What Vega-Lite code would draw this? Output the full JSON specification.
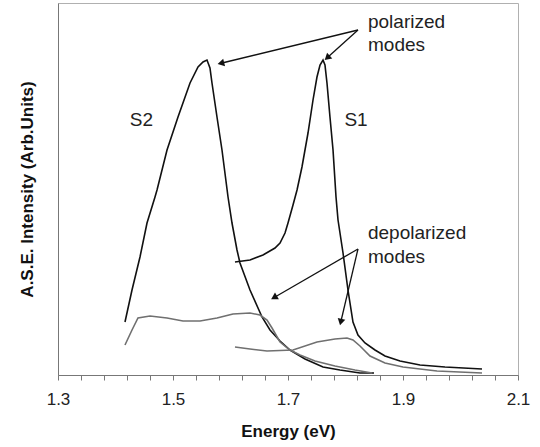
{
  "$schema": "https://vega.github.io/schema/vega-lite/v6.json",
  "width": 460,
  "height": 372,
  "autosize": {"type": "none"},
  "padding": {"left": 58, "top": 3, "right": 22, "bottom": 72},
  "background": "white",
  "config": {
    "view": {"stroke": "#b0b0b0", "strokeWidth": 1},
    "font": "Liberation Sans",
    "axis": {"labelFont": "Liberation Sans", "titleFont": "Liberation Sans"}
  },
  "datasets": {
    "curves": [
      {"series": "S2 polarized", "energy": 1.4165, "intensity": 53},
      {"series": "S2 polarized", "energy": 1.4287, "intensity": 85},
      {"series": "S2 polarized", "energy": 1.4426, "intensity": 118},
      {"series": "S2 polarized", "energy": 1.4548, "intensity": 152},
      {"series": "S2 polarized", "energy": 1.4687, "intensity": 178},
      {"series": "S2 polarized", "energy": 1.4722, "intensity": 185},
      {"series": "S2 polarized", "energy": 1.4896, "intensity": 225},
      {"series": "S2 polarized", "energy": 1.5087, "intensity": 258},
      {"series": "S2 polarized", "energy": 1.5296, "intensity": 292},
      {"series": "S2 polarized", "energy": 1.5435, "intensity": 308},
      {"series": "S2 polarized", "energy": 1.5522, "intensity": 313},
      {"series": "S2 polarized", "energy": 1.5591, "intensity": 315},
      {"series": "S2 polarized", "energy": 1.5643, "intensity": 307},
      {"series": "S2 polarized", "energy": 1.5678, "intensity": 292},
      {"series": "S2 polarized", "energy": 1.5765, "intensity": 258},
      {"series": "S2 polarized", "energy": 1.5852, "intensity": 225},
      {"series": "S2 polarized", "energy": 1.5957, "intensity": 178},
      {"series": "S2 polarized", "energy": 1.6026, "intensity": 152},
      {"series": "S2 polarized", "energy": 1.6113, "intensity": 125},
      {"series": "S2 polarized", "energy": 1.6165, "intensity": 112},
      {"series": "S2 polarized", "energy": 1.6339, "intensity": 85},
      {"series": "S2 polarized", "energy": 1.6548, "intensity": 58},
      {"series": "S2 polarized", "energy": 1.6687, "intensity": 45},
      {"series": "S2 polarized", "energy": 1.6861, "intensity": 34},
      {"series": "S2 polarized", "energy": 1.7035, "intensity": 25},
      {"series": "S2 polarized", "energy": 1.7296, "intensity": 16},
      {"series": "S2 polarized", "energy": 1.7609, "intensity": 8},
      {"series": "S2 polarized", "energy": 1.7904, "intensity": 5},
      {"series": "S2 polarized", "energy": 1.8252, "intensity": 2},
      {"series": "S2 polarized", "energy": 1.8496, "intensity": 2},

      {"series": "S1 polarized", "energy": 1.6078, "intensity": 113},
      {"series": "S1 polarized", "energy": 1.6339, "intensity": 115},
      {"series": "S1 polarized", "energy": 1.6565, "intensity": 120},
      {"series": "S1 polarized", "energy": 1.6774, "intensity": 127},
      {"series": "S1 polarized", "energy": 1.6861, "intensity": 132},
      {"series": "S1 polarized", "energy": 1.6948, "intensity": 142},
      {"series": "S1 polarized", "energy": 1.7000, "intensity": 152},
      {"series": "S1 polarized", "energy": 1.7087, "intensity": 170},
      {"series": "S1 polarized", "energy": 1.7157, "intensity": 185},
      {"series": "S1 polarized", "energy": 1.7243, "intensity": 208},
      {"series": "S1 polarized", "energy": 1.7348, "intensity": 242},
      {"series": "S1 polarized", "energy": 1.7435, "intensity": 275},
      {"series": "S1 polarized", "energy": 1.7504, "intensity": 298},
      {"series": "S1 polarized", "energy": 1.7557, "intensity": 310},
      {"series": "S1 polarized", "energy": 1.7609, "intensity": 315},
      {"series": "S1 polarized", "energy": 1.7643, "intensity": 310},
      {"series": "S1 polarized", "energy": 1.7678, "intensity": 292},
      {"series": "S1 polarized", "energy": 1.7730, "intensity": 258},
      {"series": "S1 polarized", "energy": 1.7783, "intensity": 225},
      {"series": "S1 polarized", "energy": 1.7835, "intensity": 178},
      {"series": "S1 polarized", "energy": 1.7870, "intensity": 155},
      {"series": "S1 polarized", "energy": 1.7957, "intensity": 122},
      {"series": "S1 polarized", "energy": 1.8043, "intensity": 85},
      {"series": "S1 polarized", "energy": 1.8130, "intensity": 53},
      {"series": "S1 polarized", "energy": 1.8217, "intensity": 40},
      {"series": "S1 polarized", "energy": 1.8339, "intensity": 32},
      {"series": "S1 polarized", "energy": 1.8513, "intensity": 25},
      {"series": "S1 polarized", "energy": 1.8687, "intensity": 19},
      {"series": "S1 polarized", "energy": 1.8948, "intensity": 14},
      {"series": "S1 polarized", "energy": 1.9296, "intensity": 10},
      {"series": "S1 polarized", "energy": 1.9730, "intensity": 8},
      {"series": "S1 polarized", "energy": 2.0374, "intensity": 6},

      {"series": "S2 depolarized", "energy": 1.4165, "intensity": 30},
      {"series": "S2 depolarized", "energy": 1.4287, "intensity": 45},
      {"series": "S2 depolarized", "energy": 1.4391, "intensity": 57},
      {"series": "S2 depolarized", "energy": 1.4600, "intensity": 59},
      {"series": "S2 depolarized", "energy": 1.4896, "intensity": 57},
      {"series": "S2 depolarized", "energy": 1.5174, "intensity": 54},
      {"series": "S2 depolarized", "energy": 1.5470, "intensity": 54},
      {"series": "S2 depolarized", "energy": 1.5765, "intensity": 57},
      {"series": "S2 depolarized", "energy": 1.6043, "intensity": 61},
      {"series": "S2 depolarized", "energy": 1.6339, "intensity": 62},
      {"series": "S2 depolarized", "energy": 1.6513, "intensity": 60},
      {"series": "S2 depolarized", "energy": 1.6635, "intensity": 55},
      {"series": "S2 depolarized", "energy": 1.6722, "intensity": 47},
      {"series": "S2 depolarized", "energy": 1.6861, "intensity": 33},
      {"series": "S2 depolarized", "energy": 1.7035, "intensity": 25},
      {"series": "S2 depolarized", "energy": 1.7209, "intensity": 20},
      {"series": "S2 depolarized", "energy": 1.7470, "intensity": 14},
      {"series": "S2 depolarized", "energy": 1.7817, "intensity": 9},
      {"series": "S2 depolarized", "energy": 1.8165, "intensity": 5},
      {"series": "S2 depolarized", "energy": 1.8461, "intensity": 2},

      {"series": "S1 depolarized", "energy": 1.6078, "intensity": 28},
      {"series": "S1 depolarized", "energy": 1.6339, "intensity": 26},
      {"series": "S1 depolarized", "energy": 1.6635, "intensity": 24},
      {"series": "S1 depolarized", "energy": 1.7087, "intensity": 25},
      {"series": "S1 depolarized", "energy": 1.7504, "intensity": 33},
      {"series": "S1 depolarized", "energy": 1.7817, "intensity": 36},
      {"series": "S1 depolarized", "energy": 1.8026, "intensity": 37},
      {"series": "S1 depolarized", "energy": 1.8130, "intensity": 35},
      {"series": "S1 depolarized", "energy": 1.8252, "intensity": 29},
      {"series": "S1 depolarized", "energy": 1.8426, "intensity": 19},
      {"series": "S1 depolarized", "energy": 1.8687, "intensity": 12},
      {"series": "S1 depolarized", "energy": 1.9000, "intensity": 8},
      {"series": "S1 depolarized", "energy": 1.9591, "intensity": 4},
      {"series": "S1 depolarized", "energy": 2.0374, "intensity": 2}
    ],
    "arrows": [
      {"x": 1.8217, "y": 345, "x2": 1.5852, "y2": 312, "angle": 256},
      {"x": 1.8217, "y": 345, "x2": 1.7696, "y2": 318, "angle": 228},
      {"x": 1.8217, "y": 126, "x2": 1.6774, "y2": 78, "angle": 240},
      {"x": 1.8217, "y": 126, "x2": 1.7922, "y2": 54, "angle": 193}
    ],
    "notes": [
      {"text": "polarized", "x": 1.8391, "y": 353},
      {"text": "modes", "x": 1.8391, "y": 330},
      {"text": "depolarized", "x": 1.8391, "y": 142},
      {"text": "modes", "x": 1.8391, "y": 118}
    ],
    "names": [
      {"text": "S2", "x": 1.4452, "y": 255},
      {"text": "S1", "x": 1.8183, "y": 255}
    ]
  },
  "layer": [
    {
      "data": {"name": "curves"},
      "mark": {"type": "line", "strokeWidth": 1.6, "interpolate": "linear"},
      "encoding": {
        "x": {
          "field": "energy",
          "type": "quantitative",
          "scale": {"domain": [1.3, 2.1], "nice": false, "zero": false},
          "axis": {
            "title": "Energy (eV)",
            "titleFontSize": 17,
            "titleFontWeight": "bold",
            "titleColor": "#111",
            "titlePadding": 16,
            "values": [1.3, 1.34, 1.38, 1.42, 1.46, 1.5, 1.54, 1.58, 1.62, 1.66, 1.7, 1.74, 1.78, 1.82, 1.86, 1.9, 1.94, 1.98, 2.02, 2.06, 2.1],
            "tickCount": 40,
            "labelExpr": "indexof(['1.30', '1.50', '1.70', '1.90', '2.10'], format(datum.value, '.2f')) >= 0 ? format(datum.value, '.1f') : ''",
            "labelFontSize": 17,
            "labelColor": "#222",
            "labelPadding": 11,
            "labelOverlap": false,
            "labelSeparation": 0,
            "labelFlush": false,
            "tickSize": 5,
            "tickColor": "#777",
            "domainColor": "#777",
            "grid": false
          }
        },
        "y": {
          "field": "intensity",
          "type": "quantitative",
          "scale": {"domain": [0, 372], "nice": false},
          "axis": {
            "title": "A.S.E. Intensity (Arb.Units)",
            "titleFontSize": 17,
            "titleFontWeight": "bold",
            "titleColor": "#111",
            "titlePadding": 22,
            "labels": false,
            "ticks": false,
            "grid": false,
            "domainColor": "#777"
          }
        },
        "detail": {"field": "series"},
        "color": {
          "field": "series",
          "type": "nominal",
          "scale": {
            "domain": ["S2 polarized", "S1 polarized", "S2 depolarized", "S1 depolarized"],
            "range": ["#111111", "#111111", "#707070", "#707070"]
          },
          "legend": null
        }
      }
    },
    {
      "data": {"name": "arrows"},
      "mark": {"type": "rule", "color": "#111", "strokeWidth": 1.3},
      "encoding": {
        "x": {"field": "x", "type": "quantitative"},
        "y": {"field": "y", "type": "quantitative"},
        "x2": {"field": "x2"},
        "y2": {"field": "y2"}
      }
    },
    {
      "data": {"name": "arrows"},
      "mark": {"type": "point", "shape": "triangle", "filled": true, "color": "#111", "size": 60, "opacity": 1},
      "encoding": {
        "x": {"field": "x2", "type": "quantitative"},
        "y": {"field": "y2", "type": "quantitative"},
        "angle": {"field": "angle", "type": "quantitative", "scale": null}
      }
    },
    {
      "data": {"name": "notes"},
      "mark": {"type": "text", "fontSize": 19, "color": "#222", "baseline": "middle", "align": "left", "font": "Liberation Sans"},
      "encoding": {
        "x": {"field": "x", "type": "quantitative"},
        "y": {"field": "y", "type": "quantitative"},
        "text": {"field": "text"}
      }
    },
    {
      "data": {"name": "names"},
      "mark": {"type": "text", "fontSize": 19, "color": "#222", "baseline": "middle", "align": "center", "font": "Liberation Sans"},
      "encoding": {
        "x": {"field": "x", "type": "quantitative"},
        "y": {"field": "y", "type": "quantitative"},
        "text": {"field": "text"}
      }
    }
  ]
}
